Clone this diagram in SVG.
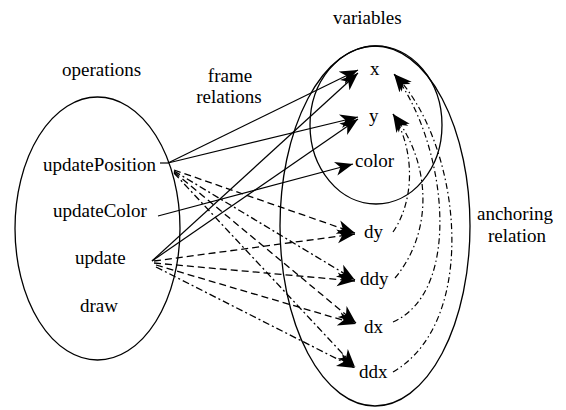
<svg xmlns="http://www.w3.org/2000/svg" width="566" height="410" viewBox="0 0 566 410">
<style>
.set{fill:none;stroke:#000;stroke-width:1.3}
.solid{fill:none;stroke:#000;stroke-width:1.2}
.dash{fill:none;stroke:#000;stroke-width:1.3;stroke-dasharray:7,4}
.dashdot{fill:none;stroke:#000;stroke-width:1.3;stroke-dasharray:7,3,2,3}
.anchor{fill:none;stroke:#000;stroke-width:1.2;stroke-dasharray:6,3,1.5,3}
</style>
<defs>
<marker id="ah" markerUnits="userSpaceOnUse" markerWidth="20" markerHeight="16" refX="18" refY="8" orient="auto">
<path d="M0,1 L18,8 L0,15 L5,8 z" fill="#000"/>
</marker>
</defs>
<g font-family="'Liberation Serif', 'Times New Roman', serif" font-size="19" fill="#000">
<g id="operations-set">
<ellipse class="set" cx="97.5" cy="228.5" rx="82.5" ry="131.5"/>
<text x="62" y="76">operations</text>
</g>
<g id="variables-set">
<ellipse class="set" cx="375" cy="226" rx="95" ry="180"/>
<ellipse class="set" cx="376" cy="125" rx="66" ry="79"/>
<text x="333" y="24">variables</text>
</g>
<g id="op-updatePosition"><text x="43" y="171">updatePosition</text></g>
<g id="op-updateColor"><text x="53" y="217">updateColor</text></g>
<g id="op-update"><text x="75" y="264">update</text></g>
<g id="op-draw"><text x="80" y="312">draw</text></g>
<g id="var-x"><text x="370" y="75">x</text></g>
<g id="var-y"><text x="369" y="122">y</text></g>
<g id="var-color"><text x="355" y="167">color</text></g>
<g id="var-dy"><text x="364" y="238">dy</text></g>
<g id="var-ddy"><text x="360" y="285">ddy</text></g>
<g id="var-dx"><text x="364" y="333">dx</text></g>
<g id="var-ddx"><text x="359" y="378">ddx</text></g>
<g id="label-frame"><text x="230" y="82" text-anchor="middle">frame</text><text x="229" y="103" text-anchor="middle">relations</text></g>
<g id="label-anchoring"><text x="515" y="220" text-anchor="middle">anchoring</text><text x="517" y="242" text-anchor="middle">relation</text></g>
</g>
<g id="connectors">
<path class="solid" d="M160,163 L168,163"/>
<path class="solid" marker-end="url(#ah)" d="M168,163 L358,70"/>
<path class="solid" marker-end="url(#ah)" d="M168,163 L358,117"/>
<path class="solid" marker-end="url(#ah)" d="M158,216 L353,164"/>
<path class="solid" marker-end="url(#ah)" d="M152,261 L358,73"/>
<path class="solid" marker-end="url(#ah)" d="M152,261 L358,119"/>
<path class="dash" marker-end="url(#ah)" d="M174,170 L355,233"/>
<path class="dashdot" marker-end="url(#ah)" d="M174,171 L355,280"/>
<path class="dash" marker-end="url(#ah)" d="M174,172 L356,323"/>
<path class="dashdot" marker-end="url(#ah)" d="M174,173 L355,367"/>
<path class="dash" marker-end="url(#ah)" d="M154,261 L355,234"/>
<path class="dash" marker-end="url(#ah)" d="M154,263 L355,281"/>
<path class="dash" marker-end="url(#ah)" d="M156,265 L356,324"/>
<path class="dashdot" marker-end="url(#ah)" d="M156,267 L355,368"/>
<path class="anchor" marker-end="url(#ah)" d="M393,232 C415,200 415,150 393,114"/>
<path class="anchor" marker-end="url(#ah)" d="M395,278 C435,230 430,160 393,114"/>
<path class="anchor" marker-end="url(#ah)" d="M393,322 C465,290 445,140 394,74"/>
<path class="anchor" marker-end="url(#ah)" d="M393,372 C482,320 460,140 394,74"/>
</g>
</svg>
